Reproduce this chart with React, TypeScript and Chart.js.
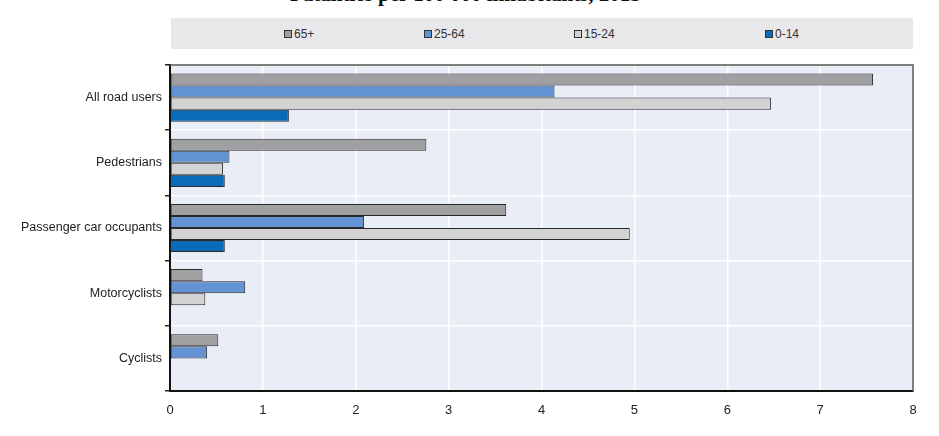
import React, { useEffect, useRef } from "react";
import { Chart, registerables } from "chart.js";

Chart.register(...registerables);

const categories = ["All road users", "Pedestrians", "Passenger car occupants", "Motorcyclists", "Cyclists"];
const seriesNames = ["65+", "25-64", "15-24", "0-14"];
const values65plus = [7.57, 2.76, 3.62, 0.35, 0.52];
const values25to64 = [4.14, 0.64, 2.09, 0.81, 0.4];
const values15to24 = [6.47, 0.57, 4.95, 0.38, null];
const values0to14 = [1.28, 0.59, 0.59, null, null];
const xTicks = [0, 1, 2, 3, 4, 5, 6, 7, 8];
const colors = ["#a0a0a3", "#6393d2", "#d3d3d4", "#0a6cb8"];

const FONT = '"Liberation Sans", Arial, sans-serif';

export default function App() {
  const ref = useRef<HTMLCanvasElement | null>(null);

  useEffect(() => {
    const prevMargin = document.body.style.margin;
    document.body.style.margin = "0";
    const canvas = ref.current;
    if (!canvas) return;
    const bgPlugin = {
      id: "plotBg",
      beforeDraw(chart: any) {
        const { ctx, chartArea } = chart;
        ctx.save();
        ctx.fillStyle = "#e9edf6";
        ctx.fillRect(chartArea.left, chartArea.top, chartArea.right - chartArea.left, chartArea.bottom - chartArea.top);
        ctx.restore();
      },
      afterDraw(chart: any) {
        const { ctx, chartArea } = chart;
        ctx.save();
        ctx.strokeStyle = "#555";
        ctx.lineWidth = 1.5;
        ctx.beginPath();
        ctx.moveTo(chartArea.left, chartArea.top);
        ctx.lineTo(chartArea.right, chartArea.top);
        ctx.lineTo(chartArea.right, chartArea.bottom);
        ctx.stroke();
        ctx.restore();
      },
    };
    const data = [values65plus, values25to64, values15to24, values0to14];
    const chart = new Chart(canvas, {
      type: "bar",
      data: {
        labels: categories,
        datasets: seriesNames.map((name, i) => ({
          label: name,
          data: data[i] as any,
          backgroundColor: colors[i],
          borderColor: "#2a2a2a",
          borderWidth: 1,
          borderSkipped: false,
          categoryPercentage: 0.74,
          barPercentage: 1,
        })),
      },
      options: {
        indexAxis: "y",
        animation: false,
        responsive: false,
        devicePixelRatio: 1,
        layout: { padding: { left: 0, right: 26, top: 65, bottom: 0 } },
        plugins: {
          legend: { display: false },
          tooltip: { enabled: false },
          title: { display: false },
        },
        scales: {
          x: {
            type: "linear",
            min: 0,
            max: 8,
            afterBuildTicks(scale: any) {
              scale.ticks = xTicks.map((v) => ({ value: v }));
            },
            afterFit(scale: any) {
              scale.height = 45;
            },
            ticks: {
              color: "#222",
              font: { family: FONT, size: 13 },
              padding: 12,
            },
            grid: { color: "#ffffff", lineWidth: 1.5, drawTicks: false },
            border: { color: "#111", width: 2 },
          },
          y: {
            afterFit(scale: any) {
              scale.width = 170;
            },
            ticks: {
              color: "#222",
              font: { family: FONT, size: 12.5 },
              padding: 3,
            },
            grid: { color: "#ffffff", lineWidth: 1.5, offset: true, tickLength: 5, tickColor: "#222" },
            border: { color: "#111", width: 2 },
          },
        },
      },
      plugins: [bgPlugin],
    });
    return () => {
      chart.destroy();
      document.body.style.margin = prevMargin;
    };
  }, []);

  const legendX = [284, 424, 574, 765];

  return (
    <div style={{ position: "fixed", left: 0, top: 0, width: 939, height: 436, background: "#fff", overflow: "hidden" }}>
      <div
        style={{
          position: "absolute",
          left: 290,
          top: -16,
          fontFamily: '"Liberation Serif", "Times New Roman", serif',
          fontWeight: "bold",
          fontSize: 21,
          lineHeight: "21px",
          whiteSpace: "nowrap",
          color: "#111",
        }}
      >
        Fatalities per 100 000 inhabitants, 2015
      </div>
      <div
        style={{
          position: "absolute",
          left: 171,
          top: 18,
          width: 742,
          height: 31,
          background: "#e8e8ea",
        }}
      />
      {seriesNames.map((name, i) => (
        <div
          key={name}
          style={{
            position: "absolute",
            left: legendX[i],
            top: 26,
            height: 16,
            display: "flex",
            alignItems: "center",
            fontFamily: FONT,
            fontSize: 12,
            color: "#333",
            whiteSpace: "nowrap",
          }}
        >
          <span
            style={{
              display: "inline-block",
              width: 6,
              height: 6,
              background: colors[i],
              border: "1px solid #333",
              marginRight: 2,
            }}
          />
          {name}
        </div>
      ))}
      <canvas ref={ref} width={939} height={436} style={{ position: "absolute", left: 0, top: 0, width: 939, height: 436 }} />
    </div>
  );
}
